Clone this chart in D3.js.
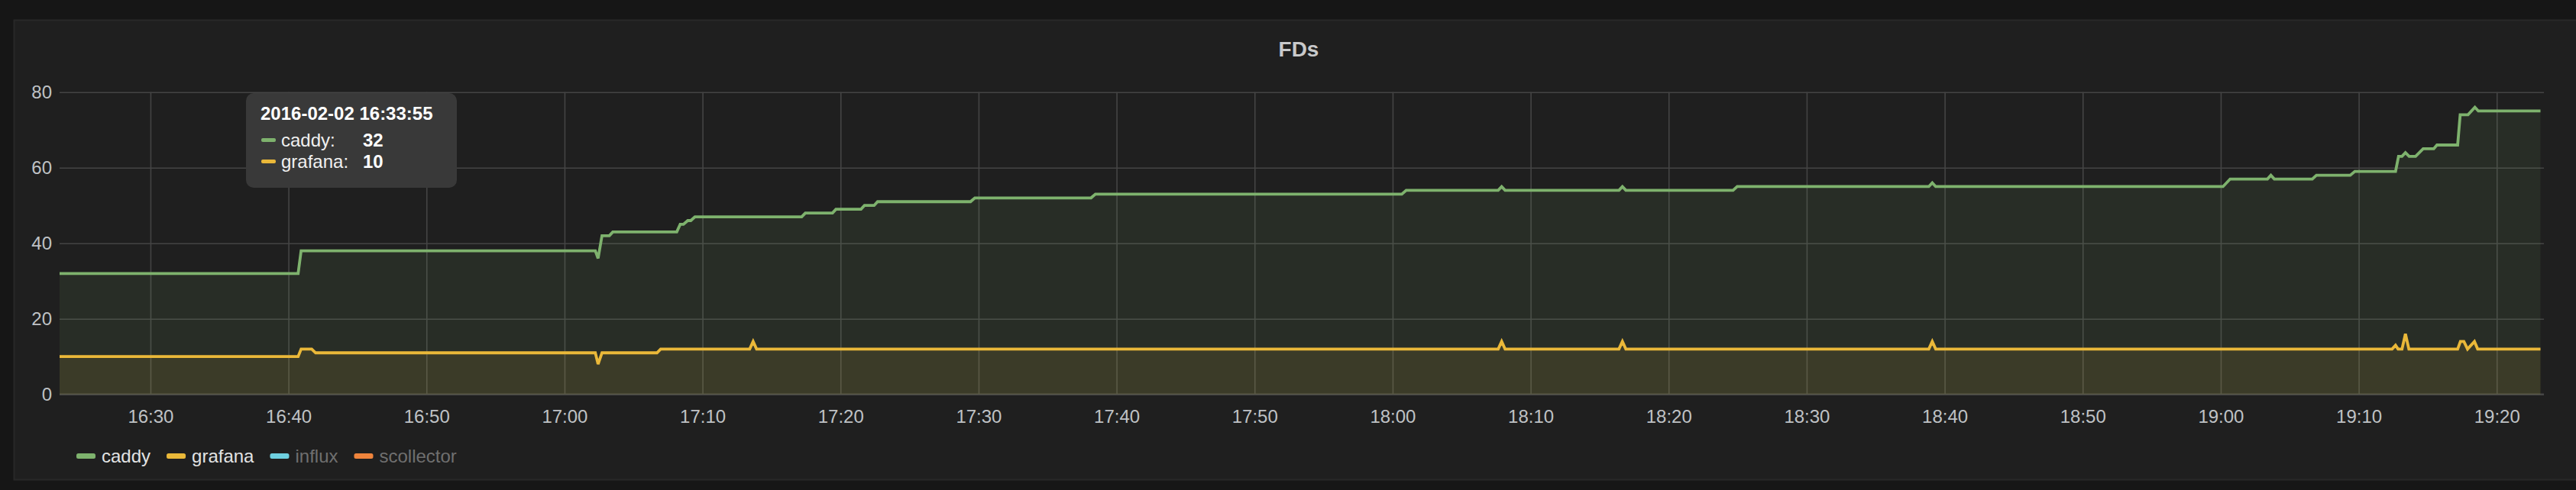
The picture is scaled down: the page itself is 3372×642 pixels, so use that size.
<!DOCTYPE html>
<html>
<head>
<meta charset="utf-8">
<script src="https://cdnjs.cloudflare.com/ajax/libs/d3/7.8.5/d3.min.js"></script>
<style>
  html, body { margin: 0; padding: 0; background: #161616; }
  svg { display: block; }
  text { font-family: "Liberation Sans", Arial, Helvetica, sans-serif; }
</style>
</head>
<body>
<svg id="chart" width="3372" height="642"></svg>
<script>
// ---------- data ----------
const chartTitle = "FDs";
const day = "2016-02-02";
const timeStart = "16:23:25";
const timeEnd = "19:23:25";

const caddyTimes = ["16:23:25","16:40:42","16:40:55","17:02:14","17:02:26","17:02:43","17:03:15","17:03:30",
  "17:08:08","17:08:23","17:08:37","17:08:56","17:09:09","17:09:27","17:17:11","17:17:27","17:19:25","17:19:40",
  "17:21:29","17:21:44","17:22:26","17:22:41","17:29:25","17:29:44","17:38:09","17:38:28","18:00:40","18:00:59",
  "18:07:39","18:07:54","18:08:09","18:16:24","18:16:39","18:16:54","18:24:40","18:24:58","18:38:51","18:39:06",
  "18:39:21","19:00:10","19:00:41","19:03:23","19:03:38","19:03:53","19:06:38","19:06:56","19:09:23","19:09:43",
  "19:12:40","19:12:53","19:13:08","19:13:23","19:13:39","19:14:07","19:14:40","19:15:26","19:15:40","19:17:10",
  "19:17:21","19:17:55","19:18:25","19:18:40","19:23:10"];
const caddyValues = [32,32,38,38,36,42,42,43,
  43,45,45,46,46,47,47,48,48,49,
  49,50,50,51,51,52,52,53,53,54,
  54,55,54,54,55,54,54,55,55,56,
  55,55,57,57,58,57,57,58,58,59,
  59,63,63,64,63,63,65,65,66,66,
  74,74,76,75,75];

const grafanaTimes = ["16:23:25","16:40:42","16:40:55","16:41:41","16:41:58","17:02:14","17:02:26","17:02:43",
  "17:06:42","17:06:58","17:13:25","17:13:40","17:13:55","18:07:39","18:07:54","18:08:09","18:16:24","18:16:39",
  "18:16:54","18:38:51","18:39:06","18:39:21","19:12:25","19:12:40","19:12:51","19:13:08","19:13:23","19:13:38",
  "19:17:10","19:17:22","19:17:37","19:17:53","19:18:23","19:18:37","19:23:10"];
const grafanaValues = [10,10,12,12,11,11,8,11,
  11,12,12,14,12,12,14,12,12,14,
  12,12,14,12,12,13,12,12,16,12,
  12,14,14,12,14,12,12];

const yTicks = [0, 20, 40, 60, 80];
const xTickTimes = ["16:30","16:40","16:50","17:00","17:10","17:20","17:30","17:40","17:50","18:00",
  "18:10","18:20","18:30","18:40","18:50","19:00","19:10","19:20"];

const seriesNames = ["caddy", "grafana", "influx", "scollector"];
const seriesColors = ["#7eb26d", "#eab839", "#6ed0e0", "#ef843c"];
const seriesHidden = [false, false, true, true];

const tooltipTime = "2016-02-02 16:33:55";
const tooltipNames = ["caddy:", "grafana:"];
const tooltipValues = [32, 10];

// ---------- drawing ----------
const parse = d3.timeParse("%Y-%m-%d %H:%M:%S");
const pt = s => parse(day + " " + (s.length === 5 ? s + ":00" : s));

const svg = d3.select("#chart");

// panel
svg.append("rect").attr("x", 18.5).attr("y", 26.5).attr("width", 3372).attr("height", 602)
  .attr("fill", "#1f1f1f").attr("stroke", "#282828").attr("stroke-width", 2);

const plotL = 78, plotR = 3330, plotT = 120.7, plotB = 516.7;
const x = d3.scaleTime().domain([pt(timeStart), pt(timeEnd)]).range([plotL, plotR]);
const y = d3.scaleLinear().domain([0, 80]).range([plotB, plotT]);

// title
svg.append("text").attr("x", 1700).attr("y", 74).attr("text-anchor", "middle")
  .attr("font-size", 28).attr("font-weight", "bold").attr("fill", "#c8c9ca").text(chartTitle);

// grid
const gridColor = "#3f3f3f";
const gx = svg.append("g").attr("transform", `translate(0,${plotB})`)
  .call(d3.axisBottom(x).tickValues(xTickTimes.map(pt)).tickSize(-(plotB - plotT)).tickFormat(""));
gx.select(".domain").remove();
gx.selectAll(".tick line").attr("stroke", "#444").attr("stroke-width", 1.6);

const gy = svg.append("g").attr("transform", `translate(${plotL},0)`)
  .call(d3.axisLeft(y).tickValues(yTicks).tickSize(-(plotR - plotL)).tickFormat(""));
gy.select(".domain").remove();
gy.selectAll(".tick line").attr("stroke", "#444").attr("stroke-width", 1.6);

// axis baseline
svg.append("line").attr("x1", plotL).attr("x2", plotR).attr("y1", y(0)).attr("y2", y(0))
  .attr("stroke", "#464646").attr("stroke-width", 2.5);

// tick labels
const ax = svg.append("g").attr("transform", `translate(0,${plotB})`)
  .call(d3.axisBottom(x).tickValues(xTickTimes.map(pt)).tickSize(0).tickFormat(d3.timeFormat("%H:%M")));
ax.select(".domain").remove();
ax.selectAll("text").attr("y", 0).attr("dy", 0).attr("transform", "translate(0,37.5)")
  .attr("font-size", 24).attr("fill", "#bfc2c5")
  .attr("font-family", "'Liberation Sans', Arial, sans-serif");

const ay = svg.append("g").attr("transform", `translate(68,0)`)
  .call(d3.axisLeft(y).tickValues(yTicks).tickSize(0).tickPadding(0));
ay.select(".domain").remove();
ay.selectAll("text").attr("x", 0).attr("dy", 0).attr("transform", "translate(0,8)")
  .attr("font-size", 24).attr("fill", "#bfc2c5")
  .attr("font-family", "'Liberation Sans', Arial, sans-serif");

// series
const series = [
  { times: caddyTimes, values: caddyValues, color: seriesColors[0] },
  { times: grafanaTimes, values: grafanaValues, color: seriesColors[1] }
];
const area = d3.area().x(d => x(d.t)).y0(y(0)).y1(d => y(d.v));
const line = d3.line().x(d => x(d.t)).y(d => y(d.v));

series.forEach(s => {
  const pts = s.times.map((t, i) => ({ t: pt(t), v: s.values[i] }));
  svg.append("path").datum(pts).attr("d", area).attr("fill", s.color).attr("fill-opacity", 0.1);
});
series.forEach(s => {
  const pts = s.times.map((t, i) => ({ t: pt(t), v: s.values[i] }));
  svg.append("path").datum(pts).attr("d", line).attr("fill", "none").attr("stroke", s.color)
    .attr("stroke-width", 3.8).attr("stroke-linejoin", "miter").attr("stroke-miterlimit", 3);
});

// legend
const lg = svg.append("g");
let lx = 100;
seriesNames.forEach((n, i) => {
  lg.append("rect").attr("x", lx).attr("y", 594).attr("width", 25).attr("height", 7).attr("rx", 2.5)
    .attr("fill", seriesColors[i]);
  const t = lg.append("text").attr("x", lx + 33).attr("y", 606).attr("font-size", 24)
    .attr("fill", seriesHidden[i] ? "#6f6f6f" : "#e2e3e4").text(n);
  lx = lx + 33 + t.node().getComputedTextLength() + 21;
});

// tooltip
const tt = svg.append("g");
tt.append("rect").attr("x", 322).attr("y", 122).attr("width", 276).attr("height", 124).attr("rx", 10)
  .attr("fill", "#393939");
tt.append("text").attr("x", 341).attr("y", 157).attr("font-size", 24).attr("font-weight", "bold")
  .attr("fill", "#ffffff").text(tooltipTime);
tooltipNames.forEach((n, i) => {
  const by = 192 + i * 28;
  tt.append("rect").attr("x", 342).attr("y", by - 11).attr("width", 19).attr("height", 5).attr("rx", 2)
    .attr("fill", seriesColors[i]);
  tt.append("text").attr("x", 368).attr("y", by).attr("font-size", 24).attr("fill", "#f0f0f0").text(n);
  tt.append("text").attr("x", 475).attr("y", by).attr("font-size", 24).attr("font-weight", "bold")
    .attr("fill", "#ffffff").text(tooltipValues[i]);
});
</script>
</body>
</html>
